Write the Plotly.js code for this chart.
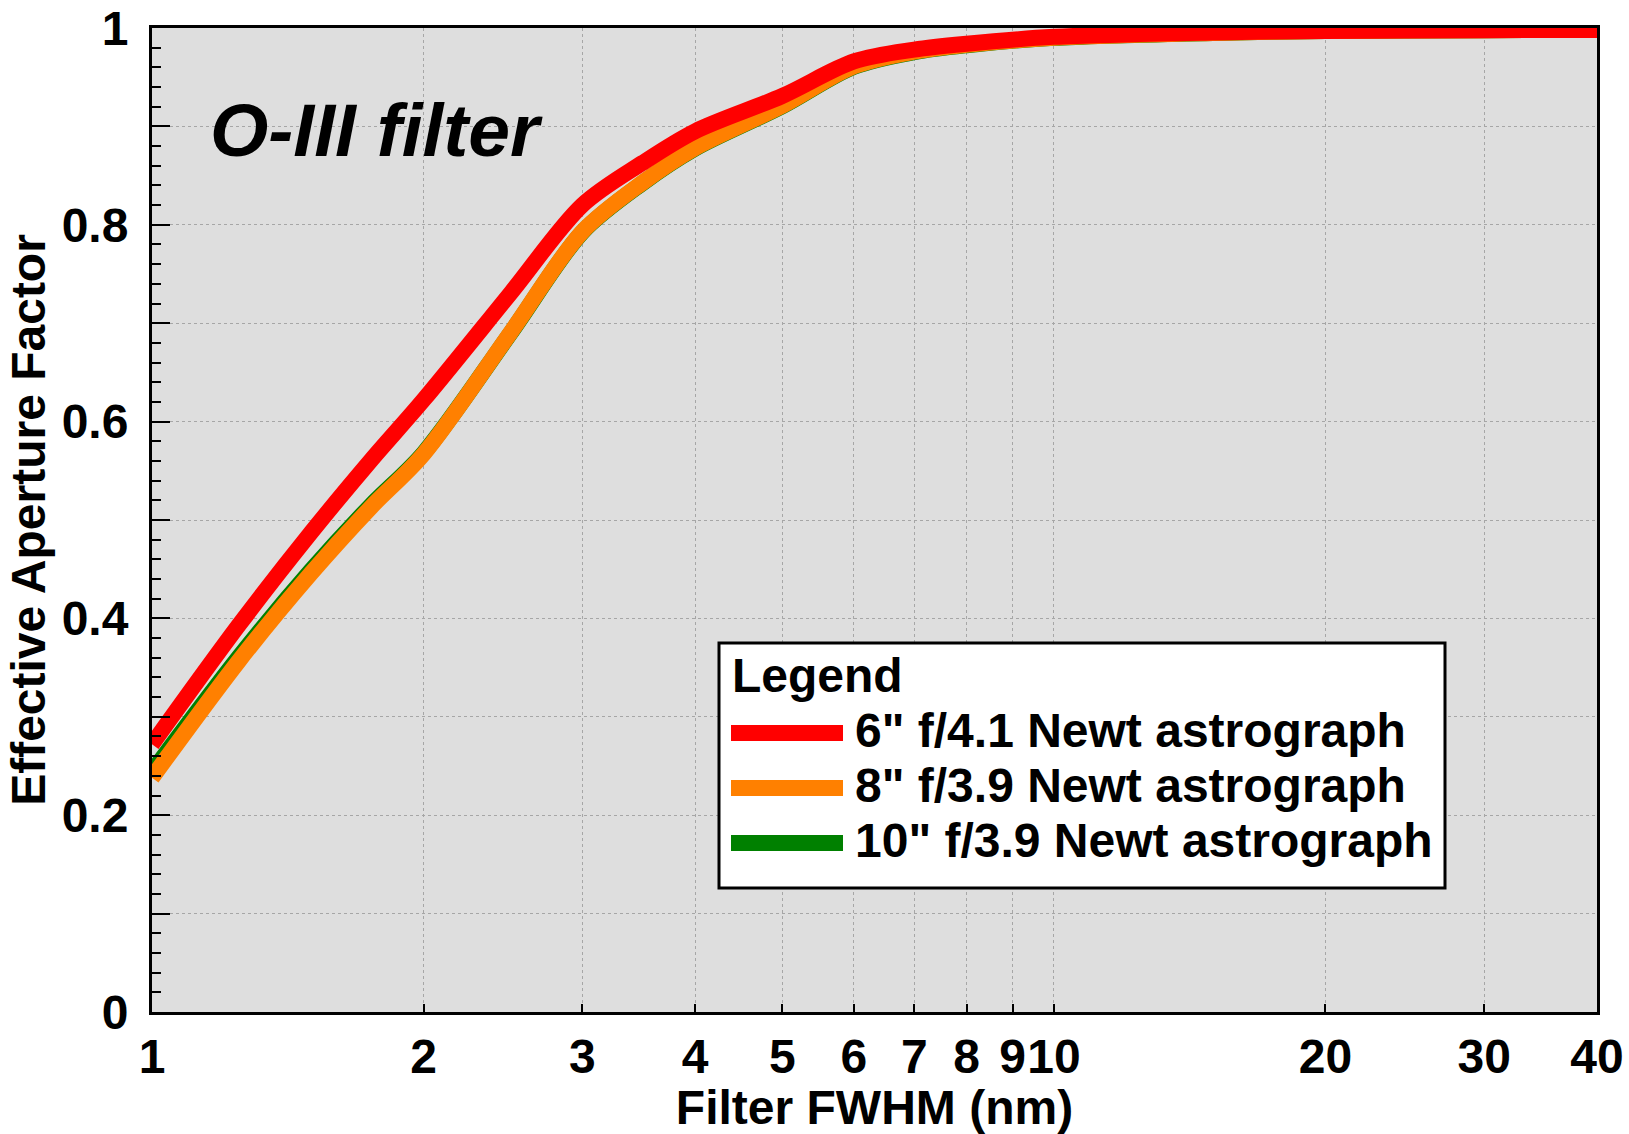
<!DOCTYPE html>
<html>
<head>
<meta charset="utf-8">
<script src="https://cdn.plot.ly/plotly-3.0.1.min.js"></script>
<style>html,body{margin:0;padding:0;background:#fff;}#chart{width:1629px;height:1134px;}</style>
</head>
<body>
<div id="chart"></div>
<script>
// Filter FWHM (nm)
var fwhm = [1, 1.25, 1.5, 1.75, 2, 2.5, 3, 3.5, 4, 5, 6, 7, 8, 10, 15, 20, 30, 40];
// Effective aperture factor per telescope
var newt6 = [0.272, 0.394, 0.487, 0.561, 0.622, 0.731, 0.820, 0.863, 0.895, 0.931, 0.966, 0.978, 0.984, 0.991, 0.9955, 0.997, 0.9978, 0.998];
var newt8 = [0.238, 0.3575, 0.4456, 0.5133, 0.567, 0.691, 0.793, 0.843, 0.878, 0.921, 0.961, 0.976, 0.983, 0.990, 0.995, 0.997, 0.9978, 0.998];
var newt10 = [0.244, 0.3615, 0.4486, 0.5153, 0.568, 0.6905, 0.7925, 0.8425, 0.8775, 0.9205, 0.9605, 0.9755, 0.9825, 0.990, 0.995, 0.997, 0.9978, 0.998];
var seriesNames = ['6" f/4.1 Newt astrograph', '8" f/3.9 Newt astrograph', '10" f/3.9 Newt astrograph'];
var seriesColors = ['#ff0000', '#ff8000', '#008000'];
var legendTitle = 'Legend';
var xTickVals = [1, 2, 3, 4, 5, 6, 7, 8, 9, 10, 20, 30, 40];
var xTickText = ['1', '2', '3', '4', '5', '6', '7', '8', '9', '10', '20', '30', '40'];
var yTickVals = [0, 0.1, 0.2, 0.3, 0.4, 0.5, 0.6, 0.7, 0.8, 0.9, 1];
var yTickText = ['0', '', '0.2', '', '0.4', '', '0.6', '', '0.8', '', '1'];
var chartLabel = 'O-III filter';

var FONT = '"Liberation Sans", Arial, Helvetica, sans-serif';
var FS = 48;
var LW = 16;

var ys = [newt6, newt8, newt10];
var traces = [];
// draw order: 10", 8", 6" (6" on top)
[2, 1, 0].forEach(function (i) {
  traces.push({x: fwhm, y: ys[i], name: seriesNames[i], mode: 'lines',
    line: {color: seriesColors[i], width: LW, shape: 'spline', smoothing: 0.9}, showlegend: false});
});

// custom legend box (paper coordinates)
var PL = 152, PT = 28, PW = 1445, PH = 984;
function px(x) { return (x - PL) / PW; }
function py(y) { return (PT + PH - y) / PH; }

var shapes = [{
  type: 'rect', xref: 'paper', yref: 'paper', layer: 'above',
  x0: px(719), x1: px(1445), y0: py(888), y1: py(643),
  fillcolor: '#ffffff', line: {color: '#000', width: 3}
}];
var annotations = [{
  text: chartLabel, xref: 'paper', yref: 'paper', x: px(376), y: py(130),
  xanchor: 'center', yanchor: 'middle', showarrow: false,
  font: {family: FONT, size: 75, weight: 'bold', style: 'italic', color: '#000'}
}, {
  text: legendTitle, xref: 'paper', yref: 'paper', x: px(730), y: py(675),
  xanchor: 'left', yanchor: 'middle', showarrow: false,
  font: {family: FONT, size: FS, weight: 'bold', color: '#000'}
}];
var rowY = [733, 788, 843];
for (var i = 0; i < 3; i++) {
  shapes.push({type: 'line', xref: 'paper', yref: 'paper', layer: 'above',
    x0: px(731), x1: px(843), y0: py(rowY[i]), y1: py(rowY[i]),
    line: {color: seriesColors[i], width: 16}});
  annotations.push({text: seriesNames[i], xref: 'paper', yref: 'paper', x: px(853), y: py(rowY[i] - 3),
    xanchor: 'left', yanchor: 'middle', showarrow: false,
    font: {family: FONT, size: FS, weight: 'bold', color: '#000'}});
}

var layout = {
  width: 1629, height: 1134,
  margin: {l: 152, r: 32, t: 28, b: 122, pad: 0},
  paper_bgcolor: '#ffffff',
  plot_bgcolor: '#dedede',
  font: {family: FONT, size: FS, color: '#000', weight: 'bold'},
  showlegend: false,
  xaxis: {
    type: 'log', range: [0, Math.log10(40)],
    tickmode: 'array', tickvals: xTickVals, ticktext: xTickText, tickangle: 0,
    ticks: 'inside', ticklen: 8, tickwidth: 2, tickcolor: '#000',
    showgrid: true, gridcolor: '#a6a6a6', gridwidth: 1, griddash: 'dot',
    showline: true, linecolor: '#000', linewidth: 3, mirror: true,
    zeroline: false,
    tickfont: {family: FONT, size: FS, weight: 'bold', color: '#000'},
    ticklabelstandoff: 0,
    title: {text: 'Filter FWHM (nm)', font: {family: FONT, size: FS, weight: 'bold', color: '#000'}, standoff: 8},
    automargin: false
  },
  xaxis2: {
    type: 'log', range: [0, Math.log10(40)], overlaying: 'x', side: 'bottom',
    tickmode: 'array', tickvals: [1, 10], ticks: 'inside', ticklen: 17, tickwidth: 2, tickcolor: '#000',
    showticklabels: false, showgrid: false, showline: false, zeroline: false
  },
  yaxis: {
    range: [0, 1],
    tickmode: 'array', tickvals: yTickVals, ticktext: yTickText,
    ticks: 'inside', ticklen: 18, tickwidth: 2, tickcolor: '#000',
    minor: {tickmode: 'linear', tick0: 0, dtick: 0.02, ticks: 'inside', ticklen: 9, tickwidth: 2, tickcolor: '#000', showgrid: false},
    showgrid: true, gridcolor: '#a6a6a6', gridwidth: 1, griddash: 'dot',
    showline: true, linecolor: '#000', linewidth: 3, mirror: true,
    zeroline: false,
    tickfont: {family: FONT, size: FS, weight: 'bold', color: '#000'},
    ticklabelstandoff: 11,
    title: {text: 'Effective Aperture Factor', font: {family: FONT, size: FS, weight: 'bold', color: '#000'}, standoff: 1},
    automargin: false
  },
  shapes: shapes,
  annotations: annotations
};

Plotly.newPlot('chart', traces, layout, {staticPlot: true, displayModeBar: false});
</script>
</body>
</html>
